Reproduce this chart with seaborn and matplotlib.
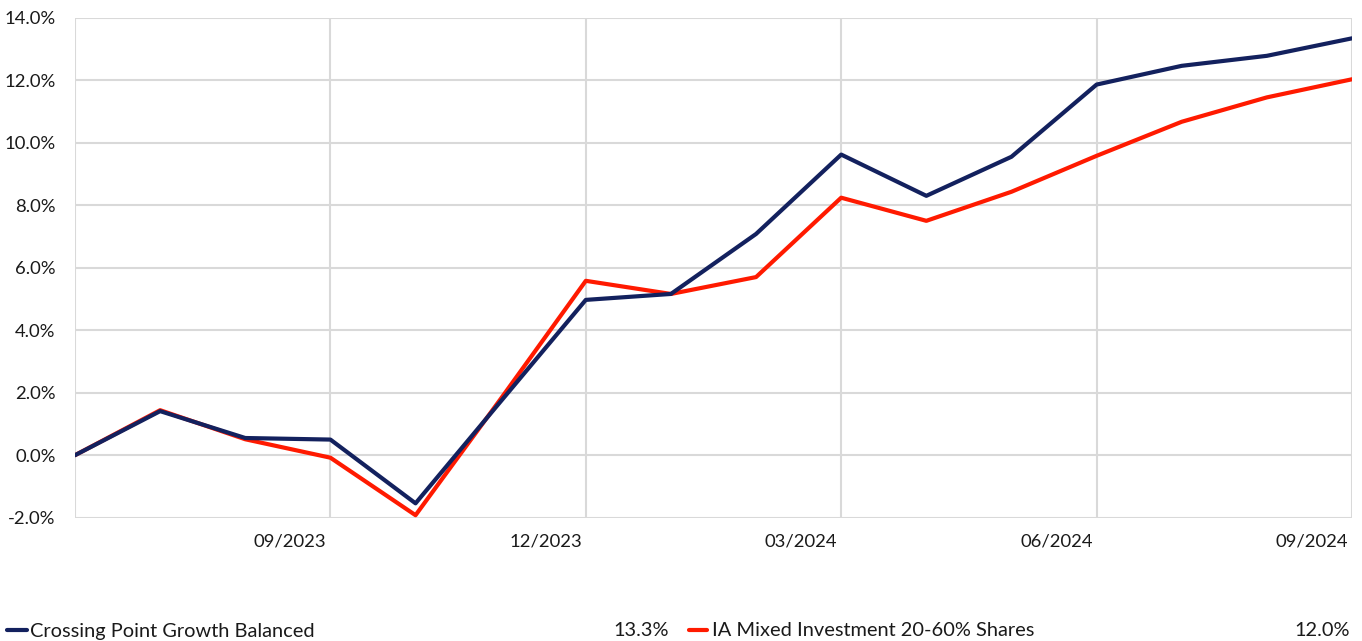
import matplotlib
matplotlib.use("Agg")
import matplotlib.pyplot as plt
from matplotlib.lines import Line2D
import matplotlib.transforms as mtrans
import seaborn as sns
import pandas as pd

months = ["06/2023", "07/2023", "08/2023", "09/2023", "10/2023", "11/2023", "12/2023",
          "01/2024", "02/2024", "03/2024", "04/2024", "05/2024", "06/2024", "07/2024",
          "08/2024", "09/2024"]
fund_name = "Crossing Point Growth Balanced"
sector_name = "IA Mixed Investment 20-60% Shares"
fund_values = [0.0, 1.41, 0.55, 0.50, -1.54, 1.72, 4.97, 5.16, 7.08, 9.62, 8.30,
               9.55, 11.86, 12.46, 12.78, 13.34]
sector_values = [0.0, 1.44, 0.51, -0.08, -1.92, 1.80, 5.58, 5.16, 5.70, 8.24, 7.50,
                 8.43, 9.58, 10.67, 11.45, 12.03]
quarter_labels = ["", "09/2023", "12/2023", "03/2024", "06/2024", "09/2024"]
y_ticks = [-2, 0, 2, 4, 6, 8, 10, 12, 14]

navy = "#13215e"
red = "#ff1a00"
grid_c = "#d9d9d9"
text_c = "#1a1a1a"

sns.set_style("white")
plt.rcParams["font.family"] = ["Lato", "DejaVu Sans"]

df = pd.DataFrame({
    "idx": list(range(len(months))) * 2,
    "value": fund_values + sector_values,
    "series": [fund_name] * len(months) + [sector_name] * len(months),
})

W, H = 1362, 641
fig = plt.figure(figsize=(W / 100, H / 100), dpi=100)
ax = fig.add_axes([75 / W, 1 - 517.7 / H, (1352 - 75) / W, (517.7 - 17.7) / H])

sns.lineplot(data=df, x="idx", y="value", hue="series",
             palette={fund_name: navy, sector_name: red},
             hue_order=[sector_name, fund_name],
             linewidth=3.0, legend=False, ax=ax, zorder=3)

ax.set_xlim(0, len(months) - 1)
ax.set_ylim(-2, 14)
ax.set_yticks(y_ticks)
ax.set_yticklabels([f"{v:.1f}%" for v in y_ticks])
ax.set_xticks(list(range(0, len(months), 3)))
ax.set_xticklabels(quarter_labels, ha="right")
ax.set_xlabel("")
ax.set_ylabel("")

ax.grid(True, axis="both", color=grid_c, linewidth=1.5)
ax.set_axisbelow(True)
for s in ax.spines.values():
    s.set_visible(False)
ax.tick_params(axis="y", length=0, pad=14, labelsize=13.3, labelcolor=text_c)
ax.tick_params(axis="x", length=9.5, width=1.5, color=grid_c, pad=2,
               labelsize=13.3, labelcolor=text_c)
offset = mtrans.ScaledTranslation(-4 / 100, 0, fig.dpi_scale_trans)
for lbl in ax.get_xticklabels():
    lbl.set_transform(lbl.get_transform() + offset)

# legend row
ly = 1 - 631 / H
fs = 14.4
fig.add_artist(Line2D([7 / W, 27 / W], [ly + 1 / H, ly + 1 / H], color=navy, linewidth=3.0))
fig.text(30 / W, ly, fund_name, ha="left", va="center", fontsize=fs, color=text_c)
fig.text(669 / W, ly, f"{fund_values[-1]:.1f}%", ha="right", va="center", fontsize=fs, color=text_c)
fig.add_artist(Line2D([689 / W, 707 / W], [ly + 1 / H, ly + 1 / H], color=red, linewidth=3.0))
fig.text(712 / W, ly, sector_name, ha="left", va="center", fontsize=fs, color=text_c)
fig.text(1350 / W, ly, f"{sector_values[-1]:.1f}%", ha="right", va="center", fontsize=fs, color=text_c)

fig.savefig("out.png", dpi=100)
